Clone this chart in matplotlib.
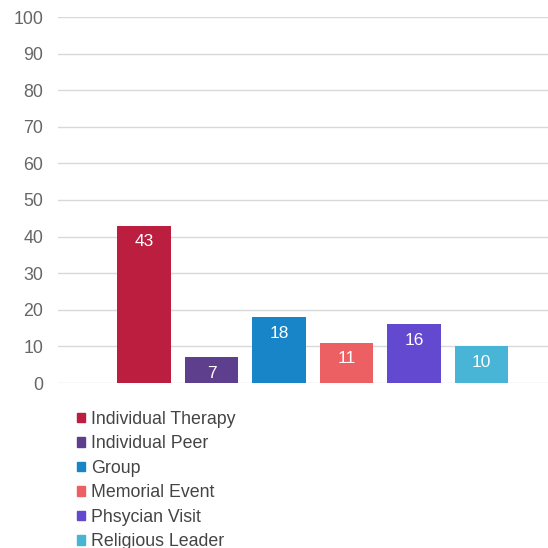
import matplotlib.pyplot as plt
from matplotlib.patches import Patch

categories = ['Individual Therapy', 'Individual Peer', 'Group',
              'Memorial Event', 'Phsycian Visit', 'Religious Leader']
values = [43, 7, 18, 11, 16, 10]
colors = ['#BC1E3F', '#5E3F8E', '#1885C8', '#EC6063', '#6249D0', '#48B4D6']
yticks = [0, 10, 20, 30, 40, 50, 60, 70, 80, 90, 100]

plt.rcParams['font.family'] = ['Liberation Sans', 'DejaVu Sans']

fig = plt.figure(figsize=(5.48, 5.48), dpi=100)
ax = fig.add_axes([58 / 548, 1 - 383 / 548, 1 - 58 / 548, 366 / 548])

x = list(range(len(values)))
bars = ax.bar(x, values, width=0.79, color=colors, zorder=2)

for b, v in zip(bars, values):
    ax.annotate(str(v), (b.get_x() + b.get_width() / 2, v),
                xytext=(0, -11.5), textcoords='offset points',
                ha='center', va='center', color='white', fontsize=12.5)

# axes look
ax.set_ylim(0, 100)
ax.set_xlim(-1.274, 5.985)
ax.set_yticks(yticks)
ax.set_xticks([])
ax.grid(axis='y', color='#D9D9D9', linewidth=1, zorder=0)
for s in ax.spines.values():
    s.set_visible(False)
ax.tick_params(axis='y', length=0, pad=10.5, labelsize=12.8, labelcolor='#666666')

# legend below the plot (last row runs off the bottom edge, as in the original)
handles = [Patch(color=c, label=l) for c, l in zip(colors, categories)]
fig.legend(handles=handles, loc='upper left', bbox_to_anchor=(77 / 548, 1 - 411 / 548),
           frameon=False, fontsize=12.8, labelcolor='#444444',
           handlelength=0.45, handleheight=0.45, handletextpad=0.34,
           labelspacing=0.42, borderaxespad=0, borderpad=0)

fig.savefig('out.png', dpi=100)
